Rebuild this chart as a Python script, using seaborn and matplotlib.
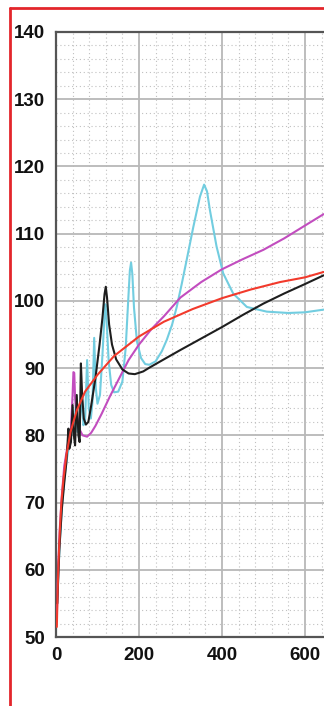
import matplotlib
matplotlib.use("Agg")
import matplotlib.pyplot as plt
from matplotlib.lines import Line2D
from matplotlib.ticker import MultipleLocator
import seaborn as sns
import pandas as pd

# ---- data ----
red_x = [2, 4, 6, 9, 13, 18, 25, 35, 50, 70, 100, 140, 200, 260, 330, 400, 470, 540, 600, 645]
red_y = [51.5, 57, 61, 65.5, 70, 73.5, 77, 80.5, 83.7, 86.5, 89, 91.8, 94.7, 96.9, 98.8, 100.4, 101.7, 102.8, 103.5, 104.3]

mag_x = [2, 5, 9, 14, 20, 28, 36, 40, 42, 44, 46, 50, 56, 64, 75, 85, 95, 110, 130, 150, 175, 200,
         230, 260, 300, 350, 400, 450, 500, 550, 600, 645]
mag_y = [53, 60, 66, 71, 75.5, 78.5, 81, 86, 89.4, 89.3, 85.5, 83, 81, 80, 79.8, 80.4, 81.4, 83.2, 85.8, 88.2, 91.2, 93.5,
         95.8, 97.7, 100.5, 102.8, 104.7, 106.2, 107.6, 109.3, 111.2, 112.9]

blk_x = [3, 8, 14, 20, 25, 28, 30, 32, 36, 40, 43, 46, 50, 54, 57, 60, 63, 67, 72, 78, 85, 95, 105, 112,
         117, 120, 123, 128, 135, 145, 160, 175, 190, 210, 226, 260, 300, 350, 400, 450, 500, 550, 600, 645]
blk_y = [55, 63, 69, 73, 76, 79, 81, 78, 79, 84.5, 80, 78.5, 86, 80, 79, 90.7, 86, 82.5, 81.6, 82, 84.5, 88.5, 93.5, 97.5,
         101, 102.1, 100.5, 96.5, 93.5, 91.3, 89.8, 89.2, 89.1, 89.5, 90.1, 91.3, 92.7, 94.4, 96.1, 97.9, 99.6, 101.1, 102.5, 103.8]

cyan_x = [3, 6, 10, 15, 20, 26, 32, 38, 44, 48, 52, 56, 62, 66, 70, 75, 79, 84, 88, 92, 96, 100, 106, 112,
          117, 119, 122, 127, 133, 140, 150, 160, 168, 174, 178, 181, 184, 188, 195, 205, 215, 225, 240, 255,
          267, 280, 291, 303, 315, 331, 347, 357, 364, 371, 387, 403, 427, 460, 508, 560, 600, 645]
cyan_y = [55, 60, 65, 70, 73.5, 76.5, 78.5, 80.5, 82, 84.5, 80.5, 81, 86, 81.5, 82, 91.2, 84, 82.5, 85, 94.5, 87, 84.7, 86, 92,
          98, 99.5, 97, 91, 87.5, 86.4, 86.5, 88, 93, 100, 104.5, 105.7, 104, 99, 94, 91.5, 90.6, 90.5, 91.0, 92.5,
          94.2, 96.5, 99.1, 102.5, 106.1, 111, 115.5, 117.3, 116.3, 113.5, 108.1, 104.1, 101.1, 99.1, 98.4, 98.2, 98.3, 98.7]

x_ticks = [0, 200, 400, 600]
y_ticks = [50, 60, 70, 80, 90, 100, 110, 120, 130, 140]

sns.set_theme(style="white")
plt.rcParams['font.family'] = ['Liberation Sans', 'DejaVu Sans']

fig = plt.figure(figsize=(3.24, 7.06), dpi=100)
ax = fig.add_axes([56/324, 1-637/706, 1-56/324, (637-32)/706])

series = [
    (cyan_x, cyan_y, "#72cde0"),
    (mag_x, mag_y, "#c24dbf"),
    (blk_x, blk_y, "#1e1e1e"),
    (red_x, red_y, "#f23a2c"),
]
for xs, ys, col in series:
    df = pd.DataFrame({"x": xs, "y": ys})
    sns.lineplot(data=df, x="x", y="y", ax=ax, color=col, lw=1.5,
                 sort=False, estimator=None, zorder=3)

ax.set_xlim(0, 646)
ax.set_ylim(50, 140)
ax.set_xticks(x_ticks)
ax.set_yticks(y_ticks)
ax.xaxis.set_minor_locator(MultipleLocator(40))
ax.yaxis.set_minor_locator(MultipleLocator(2))
ax.grid(which="major", color="#b8b8b8", lw=1.3, ls="-", zorder=0)
ax.grid(which="minor", color="#c0c0c0", lw=0.8, ls=(0, (1, 2.5)), zorder=0)
ax.set_axisbelow(True)
ax.set_xlabel("")
ax.set_ylabel("")

for s in ["left", "bottom", "top"]:
    ax.spines[s].set_visible(True)
    ax.spines[s].set_color("#555555")
    ax.spines[s].set_linewidth(1.6)
ax.spines["right"].set_visible(False)

ax.tick_params(axis="both", which="both", length=0)
ax.tick_params(axis="y", pad=8)
ax.tick_params(axis="x", pad=7)
for lab in ax.get_xticklabels() + ax.get_yticklabels():
    lab.set_fontsize(13.5)
    lab.set_fontweight("bold")
    lab.set_color("#111111")

# red frame
fig.add_artist(Line2D([9.5/324, 9.5/324], [0, 1-8/706], transform=fig.transFigure,
                      color="#e3262b", lw=2))
fig.add_artist(Line2D([9.5/324, 1], [1-8/706, 1-8/706], transform=fig.transFigure,
                      color="#e3262b", lw=2))

fig.savefig("out.png", dpi=100)
